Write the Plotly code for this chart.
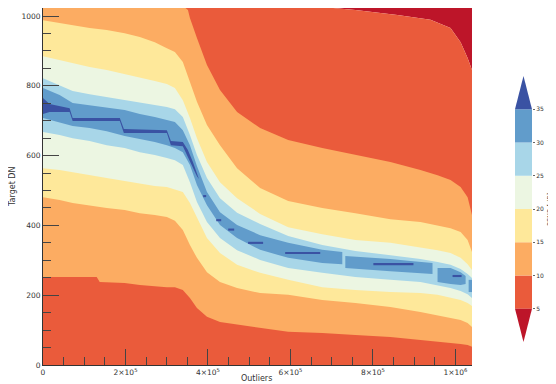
import plotly.graph_objects as go

# ---------------- data ----------------
LEVELS = [5, 10, 15, 20, 25, 30, 35]          # PSNR contour levels [dB]
COLORS = ["#bd1529", "#ea5b3b", "#fcac62", "#fee89a",
          "#ecf6e2", "#a8d6e8", "#619ccb", "#3a52a3"]  # under, 5-10, ..., 30-35, over
X_MAX = 1.04e6
DN_MAX = 1023

XTICKS = [0, 2e5, 4e5, 6e5, 8e5, 1e6]
XTICK_TEXT = ["0", "2×10<sup>5</sup>", "4×10<sup>5</sup>", "6×10<sup>5</sup>",
              "8×10<sup>5</sup>", "1×10<sup>6</sup>"]
YTICKS = [0, 200, 400, 600, 800, 1000]

# common outlier columns for the 15/20/25 boundaries
X = [0, 40300, 71900, 113000, 154500, 198000, 234700, 271000, 300300, 319800,
     339000, 356200, 373200, 397500, 429100, 470500, 526400, 594400, 677000,
     757300, 842200, 915000, 956500, 988000, 1012400, 1029400, 1040000]

U15 = [988, 980, 974, 966, 960, 951, 940, 925, 908, 897, 868, 811, 754, 688, 630,
       564, 507, 470, 450, 435, 418, 410, 401, 392, 381, 358, 324]
U20 = [885, 874, 865, 854, 845, 834, 825, 814, 805, 794, 759, 708, 650, 582, 524,
       478, 433, 395, 375, 358, 350, 338, 329, 321, 307, 289, 272]
U25 = [822, 802, 785, 776, 768, 759, 751, 745, 739, 733, 711, 659, 602, 536, 478,
       436, 404, 370, 344, 327, 315, 304, 295, 287, 275, 261, 249]
L25 = [668, 659, 650, 642, 630, 622, 610, 602, 593, 587, 573, 524, 467, 410, 364,
       329, 301, 278, 264, 252, 244, 238, 229, 221, 212, 203, 192]
L20 = [564, 559, 553, 544, 536, 527, 519, 513, 510, 504, 496, 464, 421, 364, 321,
       287, 264, 244, 223, 215, 209, 206, 201, 192, 186, 178, 169]
L15 = [481, 473, 464, 458, 450, 444, 435, 430, 424, 413, 387, 344, 307, 266, 238,
       221, 206, 201, 186, 178, 166, 152, 143, 135, 129, 120, 109]

# 10 dB boundaries
L10_X = [0, 71900, 130200, 137500, 154500, 198000, 234700, 271000, 300300, 319800,
         339000, 356200, 373200, 397500, 429100, 470500, 526400, 594400, 677000,
         757300, 842200, 915000, 956500, 988000, 1012400, 1029400, 1040000]
L10 = [252, 252, 252, 238, 238, 235, 229, 226, 223, 223, 215, 192, 163, 138, 123,
       115, 106, 95, 92, 86, 80, 72, 66, 63, 60, 57, 52]
U10_X = [0, 345300, 351400, 356200, 373200, 397500, 429100, 470500, 526400, 594400,
         677000, 757300, 842200, 915000, 956500, 988000, 1012400, 1029400, 1040000]
U10 = [1023, 1023, 1017, 994, 937, 860, 788, 725, 679, 645, 622, 602, 582, 559,
       544, 530, 510, 481, 430]

# 5 dB boundary (top right corner)
U5_X = [0, 703500, 757300, 859250, 939400, 988000, 1012400, 1029400, 1040000]
U5 = [1023, 1023, 1017, 1003, 989, 966, 925, 880, 845]

# 30 dB region (several separate pieces)
B30_X = [[0, 40300, 71900, 113000, 154500, 198000, 234700, 271000, 300300, 319800,
          339000, 356200, 373200, 397500, 429100, 470500, 526400, 594400, 677000, 725600],
         [732900, 842200, 890800, 944300],
         [956500, 988100, 1012400, 1024600],
         [1031900, 1040000]]
U30 = [[794, 774, 751, 745, 739, 731, 719, 711, 702, 696, 673, 630, 570, 496, 438,
        401, 372, 350, 330, 324],
       [312, 304, 298, 292],
       [278, 278, 266, 255],
       [244, 244]]
L30 = [[708, 696, 685, 679, 670, 656, 647, 639, 630, 622, 610, 573, 516, 458, 401,
        364, 330, 307, 292, 289],
       [278, 269, 266, 261],
       [238, 232, 229, 232],
       [209, 209]]

# >35 dB ridge
DARK_X = [0, 15900, 64600, 71900, 186300, 196000, 300300, 310000, 339000, 351200,
          363400, 373200, 378000]
DARK_TOP = [765, 748, 736, 708, 708, 676, 673, 642, 639, 616, 582, 553, 536]
DARK_BOT = [719, 725, 725, 699, 699, 665, 665, 630, 627, 599, 567, 541, 533]
DASH_X0 = [388300, 419900, 449000, 497200, 587100, 800900, 992900]
DASH_X1 = [395600, 432000, 463500, 533600, 672100, 898100, 1014800]
DASH_DN = [484, 415, 388, 350, 321, 289, 255]
DASH_HALF = 3


# ---------------- helpers ----------------
def poly(xu, yu, xl, yl):
    return list(xu) + list(reversed(xl)), list(yu) + list(reversed(yl))


def add_poly(fig, xs, ys, color, xaxis="x", yaxis="y"):
    fig.add_trace(go.Scatter(x=xs, y=ys, mode="lines", fill="toself",
                             fillcolor=color, line=dict(width=0, color=color),
                             hoverinfo="skip", xaxis=xaxis, yaxis=yaxis))


fig = go.Figure()

# <5 (above the 5 dB boundary)
xs, ys = poly(U5_X, [DN_MAX] * len(U5_X), U5_X, U5)
add_poly(fig, xs, ys, COLORS[0])
# >=5
xs, ys = poly(U5_X, U5, [0, X_MAX], [0, 0])
add_poly(fig, xs, ys, COLORS[1])
# >=10
xs, ys = poly(U10_X, U10, L10_X, L10)
add_poly(fig, xs, ys, COLORS[2])
# >=15, >=20, >=25
for up, lo, col in [(U15, L15, COLORS[3]), (U20, L20, COLORS[4]), (U25, L25, COLORS[5])]:
    xs, ys = poly(X, up, X, lo)
    add_poly(fig, xs, ys, col)
# >=30
for xx, up, lo in zip(B30_X, U30, L30):
    xs, ys = poly(xx, up, xx, lo)
    add_poly(fig, xs, ys, COLORS[6])
# >=35
xs, ys = poly(DARK_X, DARK_TOP, DARK_X, DARK_BOT)
add_poly(fig, xs, ys, COLORS[7])
for x0, x1, d in zip(DASH_X0, DASH_X1, DASH_DN):
    xs, ys = poly([x0, x1], [d + DASH_HALF] * 2, [x0, x1], [d - DASH_HALF] * 2)
    add_poly(fig, xs, ys, COLORS[7])

# ---------------- colourbar (extend both) ----------------
step = LEVELS[1] - LEVELS[0]
for i in range(len(LEVELS) - 1):
    add_poly(fig, [0, 1, 1, 0], [LEVELS[i], LEVELS[i], LEVELS[i + 1], LEVELS[i + 1]],
             COLORS[i + 1], "x2", "y2")
add_poly(fig, [0, 1, 0.5], [LEVELS[0], LEVELS[0], LEVELS[0] - step], COLORS[0], "x2", "y2")
add_poly(fig, [0, 1, 0.5], [LEVELS[-1], LEVELS[-1], LEVELS[-1] + step], COLORS[-1], "x2", "y2")

tickfont = dict(family="DejaVu Sans", size=7.5, color="#333")
tickc = "#444"
# the page body adds an 8px margin, so the figure is 8px smaller than the window
fig.update_layout(
    width=548, height=376,
    margin=dict(l=35, r=4, t=0, b=19),
    paper_bgcolor="white", plot_bgcolor="white",
    showlegend=False,
    xaxis=dict(domain=[0, 0.8428], range=[0, X_MAX], tickmode="array",
               tickvals=XTICKS, ticktext=XTICK_TEXT, ticks="inside", ticklen=16,
               tickwidth=1, tickcolor=tickc,
               minor=dict(tickmode="linear", tick0=0, dtick=5e4, ticks="inside",
                          ticklen=8, tickwidth=1, tickcolor=tickc),
               showgrid=False, zeroline=False, showline=True, linecolor="#333",
               linewidth=1, tickfont=tickfont, layer="above traces"),
    yaxis=dict(domain=[0, 1], range=[0, DN_MAX], tickmode="array", tickvals=YTICKS,
               ticks="inside", ticklen=16, tickwidth=1, tickcolor=tickc,
               minor=dict(tickmode="linear", tick0=0, dtick=50, ticks="inside",
                          ticklen=8, tickwidth=1, tickcolor=tickc),
               showgrid=False, zeroline=False, showline=True, linecolor="#333",
               linewidth=1, tickfont=tickfont, layer="above traces"),
    xaxis2=dict(domain=[0.9273, 0.9607], range=[0, 1], visible=False, anchor="y2",
                fixedrange=True),
    yaxis2=dict(domain=[0.0644, 0.8095], range=[LEVELS[0] - step, LEVELS[-1] + step],
                anchor="x2", side="right", tickmode="array", tickvals=LEVELS,
                ticks="outside", ticklen=2, tickcolor="#666", showgrid=False,
                zeroline=False, showline=False,
                tickfont=dict(family="DejaVu Sans", size=6, color="#333")),
    annotations=[
        dict(text="Target DN", x=-0.06, y=0.5, xref="paper", yref="paper",
             textangle=-90, showarrow=False, xanchor="center", yanchor="middle",
             font=dict(family="DejaVu Sans", size=8, color="#333")),
        dict(text="Outliers", x=0.4204, y=-0.037, xref="paper", yref="paper",
             showarrow=False, xanchor="center", yanchor="middle",
             font=dict(family="DejaVu Sans", size=8, color="#333")),
        dict(text="PSNR [dB]", x=0.996, y=0.437, xref="paper", yref="paper",
             textangle=-90, showarrow=False, xanchor="center", yanchor="middle",
             font=dict(family="DejaVu Sans", size=6.5, color="#333")),
    ],
)

fig.write_html("out.html")
